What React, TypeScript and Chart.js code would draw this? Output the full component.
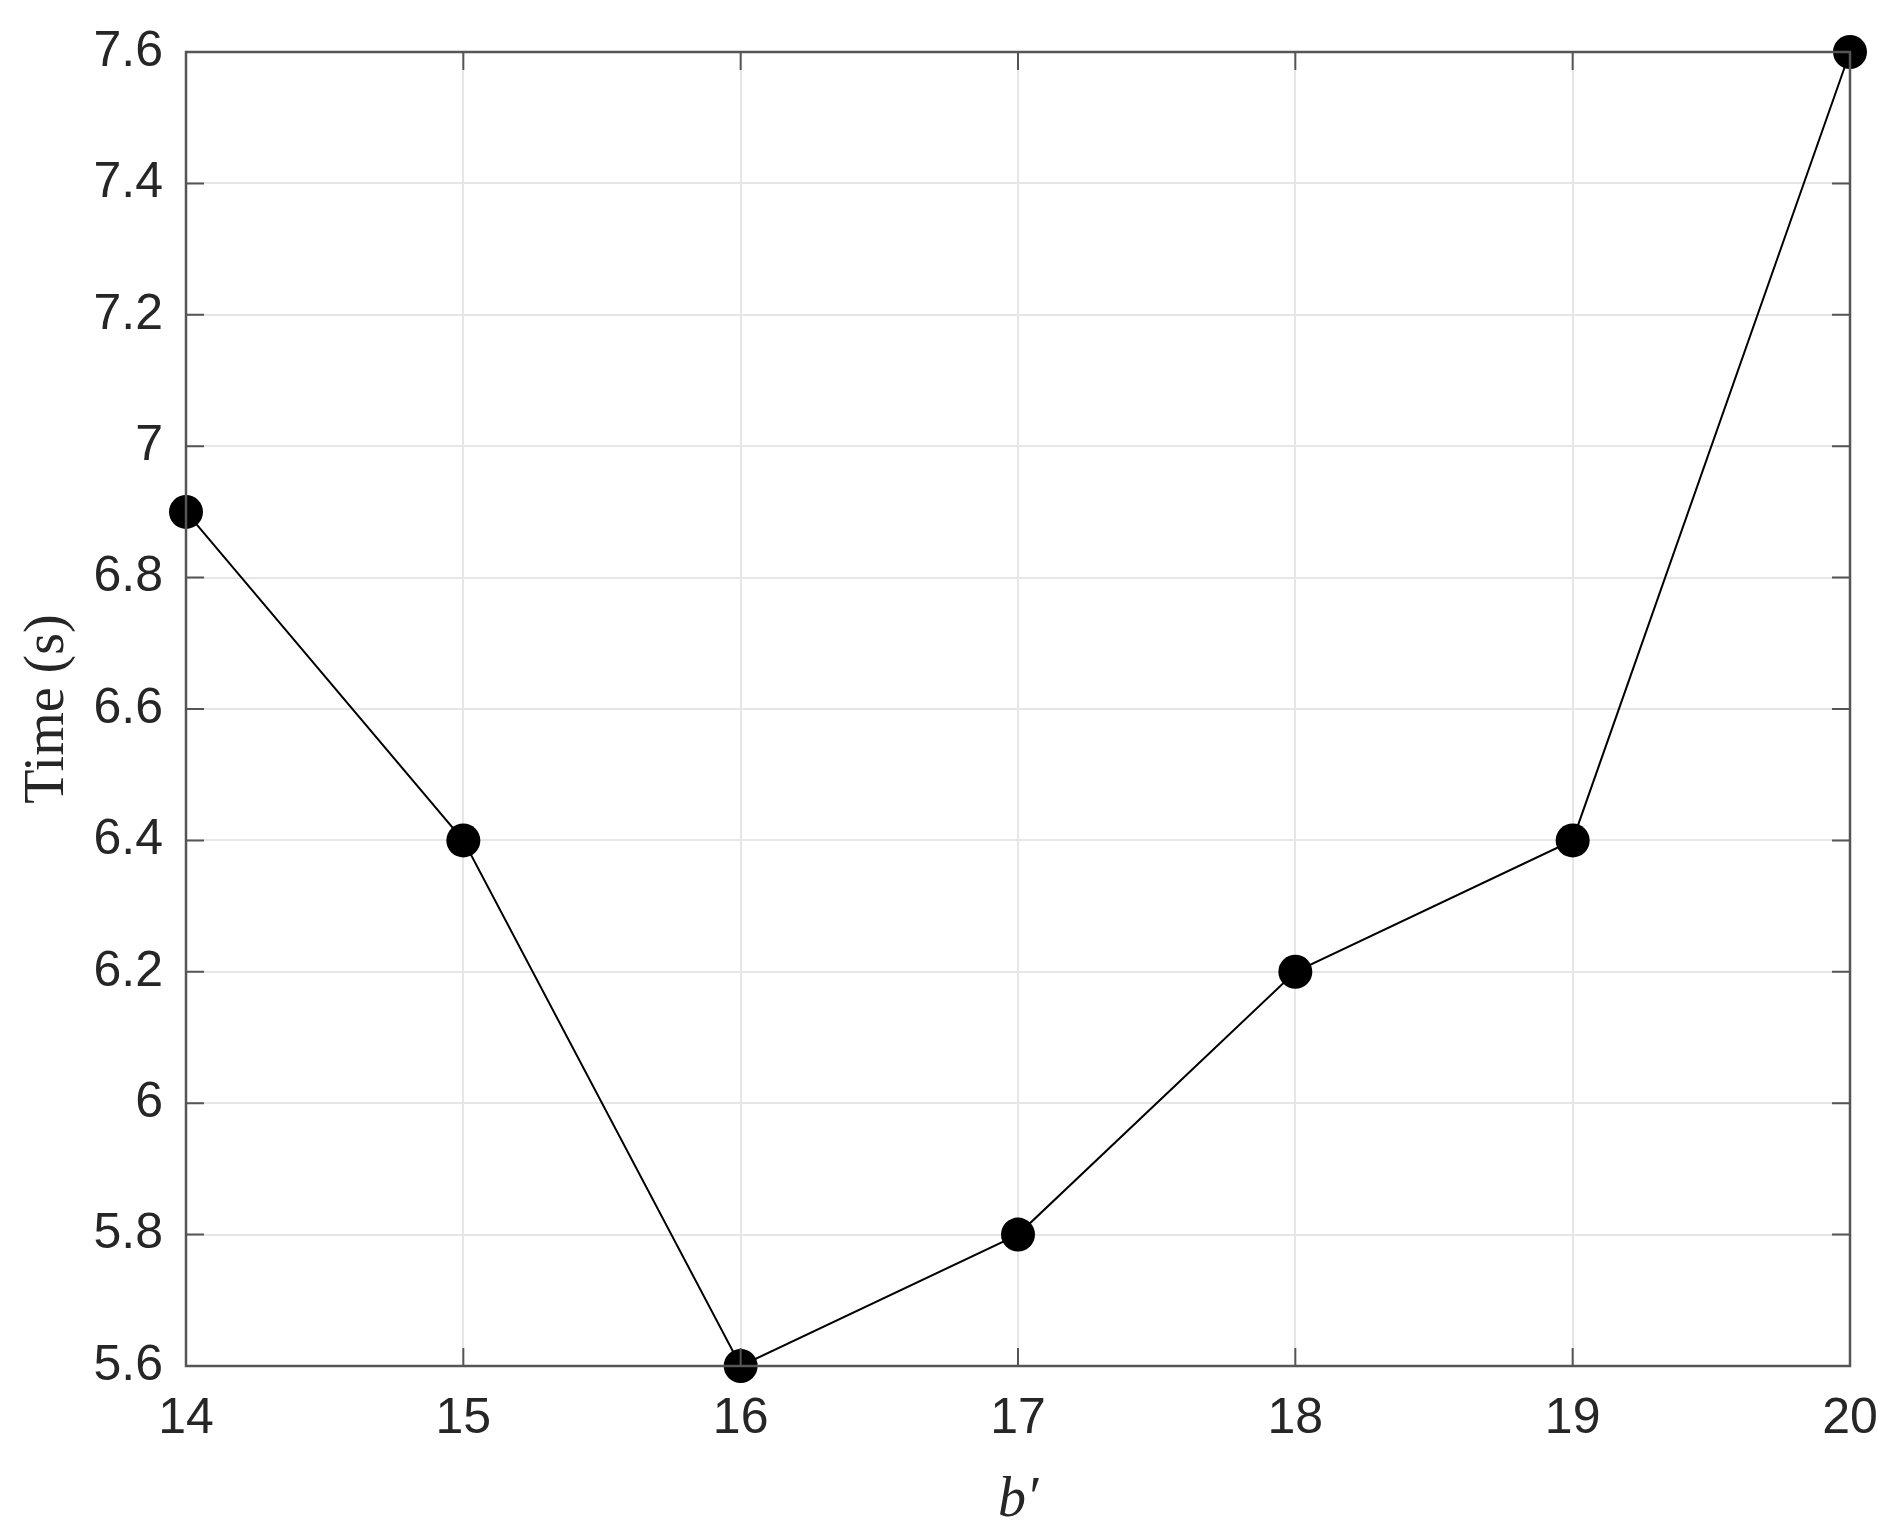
import React, { useEffect, useRef } from "react";
import { Chart, registerables } from "chart.js";

Chart.register(...registerables);

const bValues = [14, 15, 16, 17, 18, 19, 20];
const timeValues = [6.9, 6.4, 5.6, 5.8, 6.2, 6.4, 7.6];
const xTickLabels = ["14", "15", "16", "17", "18", "19", "20"];
const yTickLabels = ["5.6", "5.8", "6", "6.2", "6.4", "6.6", "6.8", "7", "7.2", "7.4", "7.6"];

const W = 1895;
const H = 1539;
const AREA = { left: 186, top: 52, right: 1850, bottom: 1366 };
const FRAME = "#555555";

const zeroPad = (s: any) => {
  s.paddingLeft = 0;
  s.paddingRight = 0;
  s.paddingTop = 0;
  s.paddingBottom = 0;
};

const framePlugin = {
  id: "matlabFrame",
  afterDatasetsDraw(chart: any) {
    const { ctx, chartArea, scales } = chart;
    const { left, right, top, bottom } = chartArea;
    ctx.save();
    ctx.strokeStyle = FRAME;
    ctx.lineWidth = 2;
    const tl = 18;
    ctx.beginPath();
    scales.x.ticks.forEach((t: any) => {
      const px = scales.x.getPixelForValue(t.value);
      ctx.moveTo(px, bottom);
      ctx.lineTo(px, bottom - tl);
      ctx.moveTo(px, top);
      ctx.lineTo(px, top + tl);
    });
    scales.y.ticks.forEach((t: any) => {
      const py = scales.y.getPixelForValue(t.value);
      ctx.moveTo(left, py);
      ctx.lineTo(left + tl, py);
      ctx.moveTo(right, py);
      ctx.lineTo(right - tl, py);
    });
    ctx.stroke();
    ctx.lineWidth = 2.5;
    ctx.strokeRect(left, top, right - left, bottom - top);
    ctx.restore();
  },
};

export default function App() {
  const ref = useRef<HTMLCanvasElement | null>(null);
  useEffect(() => {
    if (!ref.current) return;
    const chart = new Chart(ref.current, {
      type: "line",
      data: {
        datasets: [
          {
            data: bValues.map((b, i) => ({ x: b, y: timeValues[i] })),
            borderColor: "#000000",
            borderWidth: 2,
            backgroundColor: "#000000",
            pointRadius: 17,
            pointBackgroundColor: "#000000",
            pointBorderColor: "#000000",
            pointBorderWidth: 0,
            tension: 0,
            clip: false as any,
          },
        ],
      },
      options: {
        animation: false,
        responsive: false,
        devicePixelRatio: 1,
        layout: { padding: { left: 0, top: AREA.top, right: W - AREA.right, bottom: 0 } },
        plugins: { legend: { display: false }, tooltip: { enabled: false } },
        scales: {
          x: {
            type: "linear",
            min: 14,
            max: 20,
            afterFit: (s: any) => {
              s.height = H - AREA.bottom;
              zeroPad(s);
            },
            afterBuildTicks: (s: any) => {
              s.ticks = bValues.map((v) => ({ value: v }));
            },
            ticks: {
              padding: 23,
              color: "#262626",
              font: { family: "Liberation Sans, Arial, sans-serif", size: 50 },
              maxRotation: 0,
              callback: (v: any) => xTickLabels[bValues.indexOf(Number(v))] ?? "",
            },
            grid: { color: "#e6e6e6", lineWidth: 2, drawTicks: false },
            border: { display: false },
            title: {
              display: true,
              text: "b\u2032",
              color: "#262626",
              font: { family: "Liberation Serif, Times New Roman, serif", size: 56, style: "italic" },
              padding: { top: 0, bottom: 4 },
            },
          },
          y: {
            type: "linear",
            min: 5.6,
            max: 7.6,
            afterFit: (s: any) => {
              s.width = AREA.left;
              zeroPad(s);
            },
            afterBuildTicks: (s: any) => {
              s.ticks = yTickLabels.map((l) => ({ value: parseFloat(l) }));
            },
            ticks: {
              padding: 23,
              color: "#262626",
              font: { family: "Liberation Sans, Arial, sans-serif", size: 50 },
              callback: (v: any) => {
                const i = yTickLabels.findIndex((l) => Math.abs(parseFloat(l) - Number(v)) < 1e-6);
                return i >= 0 ? yTickLabels[i] : "";
              },
            },
            grid: { color: "#e6e6e6", lineWidth: 2, drawTicks: false },
            border: { display: false },
            title: {
              display: true,
              text: "Time (s)",
              color: "#262626",
              font: { family: "Liberation Serif, Times New Roman, serif", size: 56 },
              padding: { top: 15, bottom: 0 },
            },
          },
        },
      },
      plugins: [framePlugin],
    });
    return () => chart.destroy();
  }, []);
  return (
    <div style={{ position: "absolute", left: 0, top: 0, width: W, height: H, background: "#ffffff" }}>
      <canvas ref={ref} width={W} height={H} style={{ width: W, height: H, display: "block" }} />
    </div>
  );
}
